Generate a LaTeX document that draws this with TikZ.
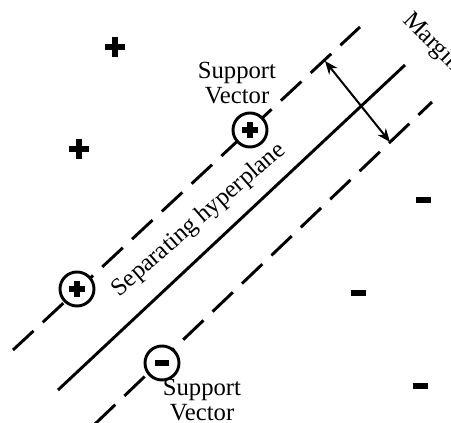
\documentclass[tikz,border=0pt]{standalone}
\usepackage{fontspec}
\setmainfont{Liberation Serif}
\usetikzlibrary{arrows.meta}

\begin{document}
\begin{tikzpicture}[x=0.75pt,y=-0.75pt,
    plane/.style={line width=2.2pt},
    margin/.style={plane, dash pattern=on 21pt off 9.5pt},
    sv/.style={circle, draw, fill=white, line width=2.2pt, minimum size=25.5pt, inner sep=0pt},
    sign/.style={line width=4.5pt},
    txt/.style={font=\fontsize{18.5}{19}\selectfont, align=center, inner sep=0pt}]
  \clip (0,0) rectangle (451,423);
  % hyperplane and the two margin lines
  \coordinate (up0) at (13,350);  \coordinate (up1) at (360,27);
  \coordinate (hp0) at (58,390);  \coordinate (hp1) at (405,65);
  \coordinate (lo0) at (95,424);  \coordinate (lo1) at (432,102);
  \draw[margin] (up0) -- (up1);
  \draw[plane] (hp0) -- (hp1);
  \draw[margin] (lo0) -- (lo1);

  % width of the margin
  \coordinate (mtop) at (325,61);
  \coordinate (mbot) at (390,142);
  \draw[{Stealth[length=10pt,width=8pt]}-{Stealth[length=10pt,width=8pt]}, line width=1.5pt] (mtop) -- (mbot);

  \node[txt] (svup) at (237,83) {Support\\Vector};
  \node[txt] (svlo) at (202,400) {Support\\Vector};
  \node[txt, rotate=41] (sep) at (199,220) {Separating hyperplane};
  \node[txt, rotate=-45, anchor=base west] (mrg) at (402,21) {Margin};

  % support vectors
  \node[sv] (sv1) at (250,130) {};
  \node[sv] (sv2) at (77,289) {};
  \node[sv] (sv3) at (162,363) {};
  \foreach \s in {sv1,sv2}
    \draw[sign, line width=3.8pt] ([xshift=-6pt]\s.center) -- ([xshift=6pt]\s.center)
      ([yshift=-6pt]\s.center) -- ([yshift=6pt]\s.center);
  \draw[sign, line width=4.2pt] ([xshift=-5pt]sv3.center) -- ([xshift=5pt]sv3.center);

  % the other samples
  \foreach \x/\y in {115/47, 79/149}
    \draw[sign] (\x-10,\y) -- (\x+10,\y) (\x,\y-10) -- (\x,\y+10);
  \foreach \x/\y in {423/200, 358/293, 420/386}
    \draw[sign, line width=5.2pt] (\x-7.5,\y) -- (\x+7.5,\y);
\end{tikzpicture}
\end{document}
